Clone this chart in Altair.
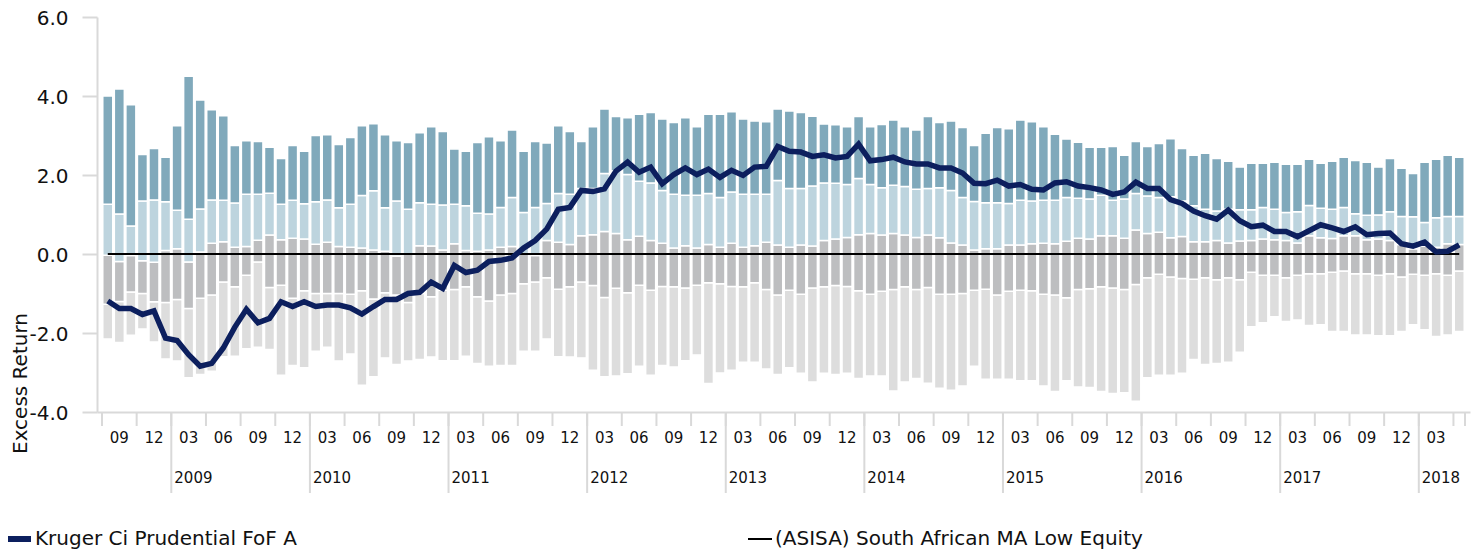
import altair as alt
import pandas as pd

# ---------------- data ----------------
months = pd.date_range("2008-07-01", "2018-04-01", freq="MS")  # 118 months

max_vals = [4.00, 4.18, 3.78, 2.52, 2.67, 2.45, 3.25, 4.50, 3.90, 3.65, 3.50, 2.75, 2.87, 2.85, 2.70, 2.42, 2.75, 2.60, 3.00, 3.02, 2.77, 2.95, 3.25, 3.30, 3.02, 2.87,
            2.82, 3.07, 3.22, 3.10, 2.66, 2.60, 2.82, 2.97, 2.87, 3.14, 2.60, 2.85, 2.81, 3.25, 3.10, 2.85, 3.22, 3.67, 3.48, 3.45, 3.54, 3.58, 3.42, 3.33, 3.45, 3.22, 3.54, 3.54, 3.60, 3.42, 3.37, 3.35,
            3.67, 3.62, 3.58, 3.49, 3.29, 3.27, 3.22, 3.48, 3.22, 3.28, 3.39, 3.22, 3.14, 3.48, 3.33, 3.37, 3.20, 2.75, 3.06, 3.20, 3.17, 3.39, 3.35, 3.22, 3.03, 2.91, 2.83, 2.70, 2.70, 2.72, 2.50, 2.85, 2.72,
            2.80, 2.92, 2.67, 2.50, 2.55, 2.42, 2.35, 2.20, 2.30, 2.30, 2.32, 2.27, 2.27, 2.40, 2.30, 2.35, 2.45, 2.37, 2.32, 2.20, 2.42, 2.17, 2.04, 2.32, 2.40, 2.50, 2.45]

q3_vals = [1.26, 1.01, 0.71, 1.34, 1.37, 1.32, 1.11, 0.88, 1.14, 1.37, 1.36, 1.29, 1.51, 1.51, 1.54, 1.26, 1.36, 1.27, 1.32, 1.37, 1.17, 1.26, 1.48, 1.60, 1.17, 1.34,
           1.13, 1.30, 1.26, 1.24, 1.26, 1.22, 1.03, 1.01, 1.18, 1.43, 1.05, 1.18, 1.28, 1.53, 1.51, 1.66, 1.66, 2.04, 2.10, 2.01, 1.84, 1.80, 1.61, 1.51, 1.49, 1.49, 1.53, 1.43, 1.57, 1.51, 1.51, 1.51,
           1.86, 1.66, 1.66, 1.72, 1.80, 1.79, 1.76, 1.91, 1.76, 1.68, 1.74, 1.71, 1.64, 1.66, 1.68, 1.61, 1.43, 1.33, 1.30, 1.30, 1.28, 1.36, 1.34, 1.36, 1.36, 1.43, 1.41, 1.39, 1.49, 1.36, 1.39, 1.53, 1.47,
           1.43, 1.45, 1.34, 1.22, 1.13, 1.09, 1.13, 1.12, 1.12, 1.18, 1.13, 1.05, 1.07, 1.23, 1.16, 1.13, 1.18, 1.02, 0.98, 0.99, 1.07, 0.95, 0.94, 0.80, 0.92, 0.95, 0.95]

median_vals = [-0.03, -0.19, -0.04, -0.17, -0.21, 0.09, 0.13, -0.20, 0.05, 0.27, 0.31, 0.17, 0.19, 0.35, 0.48, 0.36, 0.40, 0.38, 0.25, 0.30, 0.19, 0.17, 0.15, 0.10, 0.07, -0.05,
               0.00, 0.21, 0.20, 0.10, 0.26, 0.09, 0.07, 0.10, 0.17, 0.19, 0.00, -0.04, 0.34, 0.30, 0.24, 0.46, 0.49, 0.57, 0.52, 0.36, 0.45, 0.34, 0.27, 0.15, 0.21, 0.15, 0.24, 0.17, 0.27, 0.17, 0.21, 0.30,
               0.23, 0.17, 0.23, 0.20, 0.34, 0.38, 0.42, 0.49, 0.52, 0.48, 0.52, 0.48, 0.42, 0.48, 0.41, 0.28, 0.23, 0.10, 0.13, 0.13, 0.23, 0.23, 0.26, 0.27, 0.26, 0.32, 0.40, 0.38, 0.46, 0.46, 0.40, 0.61, 0.52,
               0.55, 0.41, 0.44, 0.31, 0.31, 0.34, 0.28, 0.33, 0.34, 0.38, 0.36, 0.34, 0.28, 0.46, 0.41, 0.39, 0.46, 0.46, 0.36, 0.38, 0.34, 0.24, 0.13, 0.20, 0.17, 0.26, 0.24]

q1_vals = [-1.27, -1.20, -0.96, -1.00, -1.21, -1.23, -1.15, -1.38, -1.12, -1.04, -0.71, -0.83, -0.54, -0.20, -0.85, -0.79, -1.12, -0.93, -1.00, -1.00, -1.00, -1.02, -0.93, -1.14, -0.98, -1.04,
           -1.23, -1.00, -1.08, -0.92, -0.90, -0.83, -1.08, -1.19, -1.04, -1.00, -0.75, -0.71, -0.60, -0.89, -0.83, -0.71, -0.80, -1.10, -0.87, -0.98, -0.79, -0.92, -0.82, -0.83, -0.86, -0.79, -0.73, -0.75, -0.82, -0.83, -0.73, -0.90,
           -1.04, -0.92, -1.02, -0.86, -0.83, -0.80, -0.82, -0.93, -1.02, -0.94, -0.90, -0.83, -0.90, -0.85, -1.02, -1.02, -1.00, -0.92, -0.89, -1.04, -0.94, -0.92, -0.93, -1.02, -1.04, -1.11, -0.90, -0.88, -0.83, -0.86, -0.90, -0.77, -0.60,
           -0.51, -0.58, -0.62, -0.64, -0.60, -0.65, -0.60, -0.65, -0.46, -0.54, -0.54, -0.60, -0.54, -0.50, -0.50, -0.46, -0.43, -0.50, -0.50, -0.54, -0.50, -0.58, -0.51, -0.54, -0.50, -0.54, -0.43]

min_vals = [-2.15, -2.24, -2.06, -1.90, -2.23, -2.66, -2.71, -3.13, -3.05, -2.97, -2.60, -2.59, -2.40, -2.36, -2.42, -3.07, -2.82, -2.88, -2.46, -2.36, -2.71, -2.53, -3.32, -3.11, -2.63, -2.80,
            -2.71, -2.67, -2.61, -2.70, -2.70, -2.59, -2.77, -2.84, -2.82, -2.82, -2.46, -2.46, -2.15, -2.60, -2.61, -2.63, -2.94, -3.11, -3.09, -3.03, -2.84, -3.07, -2.82, -2.86, -2.70, -2.56, -3.28, -3.01, -2.94, -2.74, -2.74, -2.91,
            -3.05, -2.88, -3.02, -3.24, -3.02, -3.05, -3.02, -3.15, -3.09, -3.09, -3.47, -3.24, -3.15, -3.27, -3.40, -3.45, -3.34, -2.84, -3.17, -3.17, -3.17, -3.21, -3.21, -3.34, -3.48, -3.21, -3.37, -3.38, -3.48, -3.53, -3.51, -3.73, -3.13,
            -3.07, -3.07, -3.02, -2.67, -2.80, -2.77, -2.74, -2.49, -1.84, -1.74, -1.59, -1.71, -1.67, -1.81, -1.79, -1.96, -1.96, -2.05, -2.05, -2.07, -2.07, -1.96, -1.79, -1.92, -2.09, -2.05, -1.96]

fund_vals = [-1.19, -1.38, -1.38, -1.53, -1.44, -2.13, -2.19, -2.55, -2.84, -2.77, -2.38, -1.85, -1.40, -1.74, -1.63, -1.21, -1.33, -1.21, -1.33, -1.29, -1.29, -1.36, -1.52, -1.33, -1.15, -1.15,
             -1.00, -0.97, -0.71, -0.87, -0.29, -0.47, -0.41, -0.19, -0.16, -0.10, 0.15, 0.34, 0.63, 1.13, 1.18, 1.61, 1.58, 1.65, 2.10, 2.33, 2.07, 2.20, 1.78, 2.01, 2.18, 2.01, 2.15, 1.94, 2.12, 1.99, 2.20, 2.22,
             2.72, 2.60, 2.58, 2.47, 2.51, 2.43, 2.47, 2.78, 2.36, 2.39, 2.45, 2.33, 2.28, 2.28, 2.18, 2.18, 2.05, 1.79, 1.78, 1.87, 1.72, 1.76, 1.64, 1.62, 1.80, 1.83, 1.72, 1.68, 1.62, 1.51, 1.57, 1.82, 1.66,
             1.66, 1.38, 1.28, 1.09, 0.97, 0.88, 1.11, 0.84, 0.69, 0.73, 0.57, 0.57, 0.44, 0.59, 0.74, 0.66, 0.57, 0.69, 0.49, 0.52, 0.53, 0.26, 0.20, 0.30, 0.05, 0.07, 0.23]

category_vals = [0.0] * len(months)  # category is the benchmark: excess return 0

quarter_labels = ["09", "12"] + ["03", "06", "09", "12"] * 9 + ["03"]
year_labels = ["2009", "2010", "2011", "2012", "2013", "2014", "2015", "2016", "2017", "2018"]

fund_name = "Kruger Ci Prudential FoF A"
cat_name = "(ASISA) South African MA Low Equity"

segments = ["Bottom quartile", "Third quartile", "Second quartile", "Top quartile"]
seg_colors = ["#dddddd", "#bdbec0", "#bdd4de", "#80a9bb"]
navy = "#0c1f5e"
axis_grey = "#d9d9d9"

# ---------------- tables ----------------
n = len(months)
rows = []
for i in range(n):
    bounds = [min_vals[i], q1_vals[i], median_vals[i], q3_vals[i], max_vals[i]]
    for s in range(4):
        rows.append({"x": i + 0.5, "lo": bounds[s], "hi": bounds[s + 1], "seg": segments[s]})
bar_df = pd.DataFrame(rows)

fund_df = pd.DataFrame({"x": [i + 0.5 for i in range(n)], "v": fund_vals})
cat_df = pd.DataFrame({"x": [i + 0.5 for i in range(n)], "v": category_vals})

qlab_df = pd.DataFrame({"x": [3 * k + 1.5 for k in range(len(quarter_labels))], "label": quarter_labels})
qtick_df = pd.DataFrame({"x": [3 * k for k in range(len(quarter_labels) + 1)] + [n]})
year_df = pd.DataFrame({"x": [6 + 12 * j for j in range(len(year_labels))], "label": year_labels})
one = pd.DataFrame({"a": [0]})

TOP = 9
W, H = 1373, 412 - 8 - TOP
xscale = alt.Scale(domain=[0, n], nice=False, zero=False)
yscale = alt.Scale(domain=[-4, 6], nice=False, zero=False)

xaxis = alt.Axis(title=None, labels=False, ticks=False, grid=False, domain=True,
                 domainColor=axis_grey, domainWidth=2)
yaxis = alt.Axis(values=[-4, -2, 0, 2, 4, 6], grid=False,
                 labelExpr="(datum.value < 0 ? '-' : '') + format(abs(datum.value), '.1f')",
                 labelFontSize=20, labelColor="#111111", labelPadding=14, labelOffset=1,
                 tickSize=15, tickColor=axis_grey, tickWidth=2,
                 domainColor=axis_grey, domainWidth=2,
                 title="Excess Return", titleFontSize=20, titleFontWeight="normal",
                 titleColor="#111111", titleAngle=270, titleAlign="center",
                 titleBaseline="alphabetic", titleX=-71, titleY=383 - 8 - TOP)

bars = alt.Chart(bar_df).mark_bar(size=10, stroke="white", strokeWidth=1.5).encode(
    x=alt.X("x:Q", scale=xscale, axis=xaxis),
    y=alt.Y("lo:Q", scale=yscale, axis=yaxis),
    y2="hi:Q",
    color=alt.Color("seg:N", scale=alt.Scale(domain=segments, range=seg_colors), legend=None),
)

cat_line = alt.Chart(cat_df).mark_line(color="black", strokeWidth=2).encode(
    x=alt.X("x:Q", scale=xscale), y=alt.Y("v:Q", scale=yscale))

fund_line = alt.Chart(fund_df).mark_line(color=navy, strokeWidth=5.5).encode(
    x=alt.X("x:Q", scale=xscale), y=alt.Y("v:Q", scale=yscale))

qticks = alt.Chart(qtick_df).mark_rule(color=axis_grey, strokeWidth=2).encode(
    x=alt.X("x:Q", scale=xscale), y=alt.value(H), y2=alt.value(H + 14))

yticks = alt.Chart(year_df).mark_rule(color=axis_grey, strokeWidth=2).encode(
    x=alt.X("x:Q", scale=xscale), y=alt.value(H), y2=alt.value(H + 81))

qlabels = alt.Chart(qlab_df).mark_text(fontSize=15, align="center", baseline="middle", color="#111111").encode(
    x=alt.X("x:Q", scale=xscale), y=alt.value(H + 26), text="label:N")

ylabels = alt.Chart(year_df).mark_text(fontSize=15, align="left", baseline="middle", dx=3, color="#111111").encode(
    x=alt.X("x:Q", scale=xscale), y=alt.value(H + 66), text="label:N")

LEG_Y = 539 - 8 - TOP
leg1_sym = alt.Chart(one).mark_rule(color=navy, strokeWidth=6).encode(
    x=alt.value(-89), x2=alt.value(-66), y=alt.value(LEG_Y))
leg1_txt = alt.Chart(one).mark_text(text=fund_name, fontSize=20, align="left", baseline="middle", color="#111111").encode(
    x=alt.value(-62), y=alt.value(LEG_Y))
leg2_sym = alt.Chart(one).mark_rule(color="black", strokeWidth=2).encode(
    x=alt.value(651), x2=alt.value(675), y=alt.value(LEG_Y))
leg2_txt = alt.Chart(one).mark_text(text=cat_name, fontSize=20, align="left", baseline="middle", color="#111111").encode(
    x=alt.value(678), y=alt.value(LEG_Y))

chart = alt.layer(
    bars, cat_line, fund_line, qticks, yticks, qlabels, ylabels,
    leg1_sym, leg1_txt, leg2_sym, leg2_txt,
).properties(
    width=W, height=H,
    autosize=alt.AutoSizeParams(type="none"),
    padding={"left": 89, "top": TOP, "right": 5, "bottom": 544 - TOP - H},
).configure(
    font="DejaVu Sans",
).configure_view(stroke=None)

chart.save("out.html", embed_options={"renderer": "svg", "actions": False})
